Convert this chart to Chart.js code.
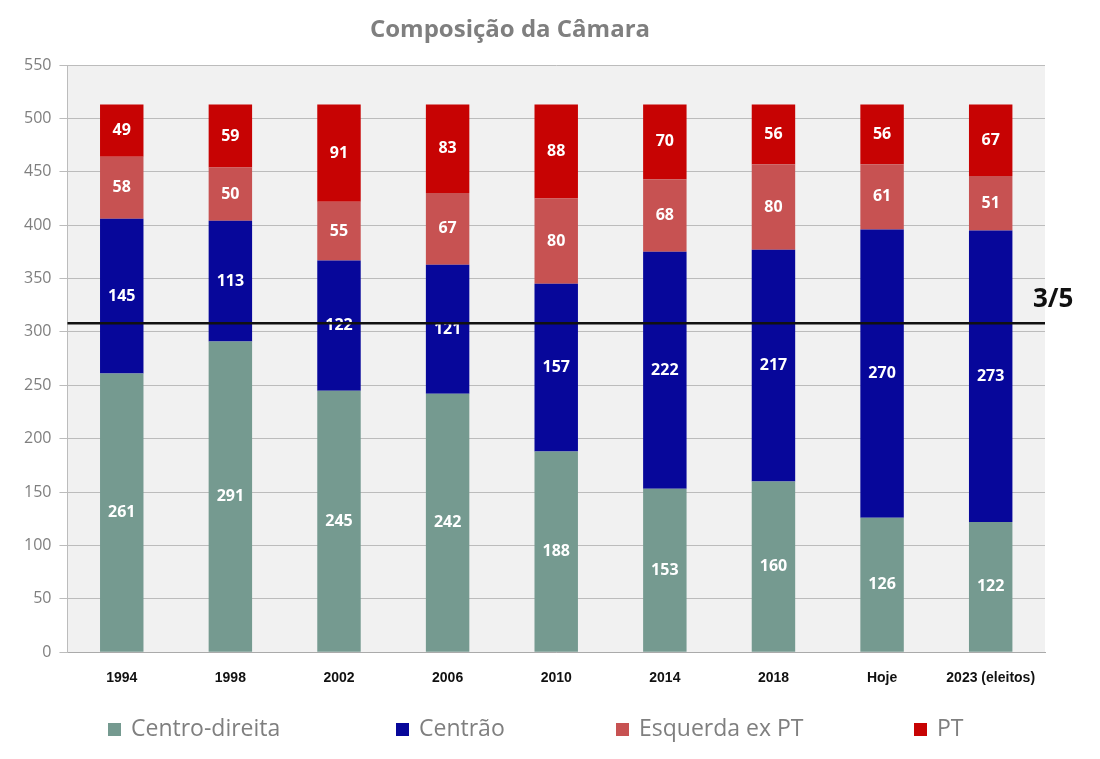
<!DOCTYPE html>
<html>
<head>
<meta charset="utf-8">
<script src="https://cdn.jsdelivr.net/npm/chart.js@4"></script>
<style>
  html, body { margin: 0; padding: 0; background: #fff; }
  #wrap { position: relative; width: 1100px; height: 759px; }
  #legenda span.item {
    position: absolute; top: 712px; height: 30px; line-height: 30px;
    font-family: 'Open Sans', sans-serif; font-size: 23px; color: #7f7f7f; white-space: nowrap;
  }
  #legenda i {
    display: inline-block; width: 13px; height: 13px; margin-right: 10px; vertical-align: 0px;
  }
</style>
</head>
<body>
<div id="wrap">
  <canvas id="myChart" width="1100" height="759"></canvas>
  <div id="legenda"></div>
</div>
<script>
// data
var anos = ["1994", "1998", "2002", "2006", "2010", "2014", "2018", "Hoje", "2023 (eleitos)"];
var centroDireita = [261, 291, 245, 242, 188, 153, 160, 126, 122];
var centrao = [145, 113, 122, 121, 157, 222, 217, 270, 273];
var esquerdaExPT = [58, 50, 55, 67, 80, 68, 80, 61, 51];
var pt = [49, 59, 91, 83, 88, 70, 56, 56, 67];
var tresQuintos = 308;

var cores = ["#759a90", "#07079a", "#c75252", "#c70303"];

// gray plot background + title
var fundo = {
    id: "fundo",
    beforeDraw: chart => {
        var ctx = chart.ctx, a = chart.chartArea;
        ctx.save();
        ctx.fillStyle = "#f1f1f1";
        ctx.fillRect(a.left, a.top, a.right - a.left, a.bottom - a.top);
        ctx.fillStyle = "#7f7f7f";
        ctx.font = "bold 24px 'Open Sans', sans-serif";
        ctx.textAlign = "center";
        ctx.textBaseline = "middle";
        ctx.fillText("Composição da Câmara", 510, 30);
        ctx.restore();
    }
};

// numbers inside the bars
var rotulos = {
    id: "rotulos",
    afterDatasetsDraw: chart => {
        var ctx = chart.ctx;
        ctx.save();
        ctx.fillStyle = "#fff";
        ctx.font = "bold 16px 'Open Sans', sans-serif";
        ctx.textAlign = "center";
        ctx.textBaseline = "middle";
        chart.data.datasets.forEach((ds, i) => {
            chart.getDatasetMeta(i).data.forEach((bar, j) => {
                var y = (bar.y + bar.base) / 2;
                ctx.fillText(ds.data[j], bar.x, y);
            });
        });
        ctx.restore();
    }
};

// 3/5 line
var linha = {
    id: "linha",
    afterDraw: chart => {
        var ctx = chart.ctx, a = chart.chartArea;
        var y = chart.scales.y.getPixelForValue(tresQuintos);
        ctx.save();
        ctx.strokeStyle = "#111";
        ctx.lineWidth = 2.5;
        ctx.beginPath();
        ctx.moveTo(a.left, y);
        ctx.lineTo(a.right, y);
        ctx.stroke();
        ctx.fillStyle = "#111";
        ctx.font = "bold 26px 'Open Sans', sans-serif";
        ctx.textAlign = "left";
        ctx.textBaseline = "alphabetic";
        ctx.fillText("3/5", a.right - 12, y - 16);
        ctx.restore();
    }
};

var ctx = document.getElementById("myChart").getContext("2d");
var chart = new Chart(ctx, {
    type: "bar",
    data: {
        labels: anos,
        datasets: [{
                label: "Centro-direita",
                backgroundColor: cores[0],
                data: centroDireita
            },
            {
                label: "Centrão",
                backgroundColor: cores[1],
                data: centrao
            },
            {
                label: "Esquerda ex PT",
                backgroundColor: cores[2],
                data: esquerdaExPT
            },
            {
                label: "PT",
                backgroundColor: cores[3],
                data: pt
            }
        ]
    },
    options: {
        responsive: false,
        animation: false,
        layout: { padding: { left: 16, right: 55, top: 65, bottom: 54 } },
        datasets: { bar: { categoryPercentage: 1, barPercentage: 0.4 } },
        plugins: {
            title: { display: false },
            legend: { display: false },
            tooltip: { enabled: false }
        },
        scales: {
            x: {
                stacked: true,
                grid: { display: false, drawTicks: false },
                border: { color: "#aaa" },
                ticks: {
                    color: "#111",
                    padding: 18,
                    maxRotation: 0,
                    minRotation: 0,
                    autoSkip: false,
                    font: { family: "'Liberation Sans', Arial, sans-serif", size: 14, weight: "bold" }
                }
            },
            y: {
                stacked: true,
                min: 0,
                max: 550,
                ticks: {
                    stepSize: 50,
                    color: "#7f7f7f",
                    padding: 8,
                    font: { family: "'Open Sans', sans-serif", size: 16 }
                },
                grid: { color: "#bcbcbc", tickLength: 8 },
                border: { color: "#bcbcbc" }
            }
        }
    },
    plugins: [fundo, rotulos, linha]
});

// legend, built from the datasets
var posLegenda = [108, 396, 616, 914];
var legenda = document.getElementById("legenda");
chart.data.datasets.forEach((ds, i) => {
    var s = document.createElement("span");
    s.className = "item";
    s.style.left = posLegenda[i] + "px";
    s.innerHTML = '<i style="background:' + ds.backgroundColor + '"></i>' + ds.label;
    legenda.appendChild(s);
});
</script>
</body>
</html>
